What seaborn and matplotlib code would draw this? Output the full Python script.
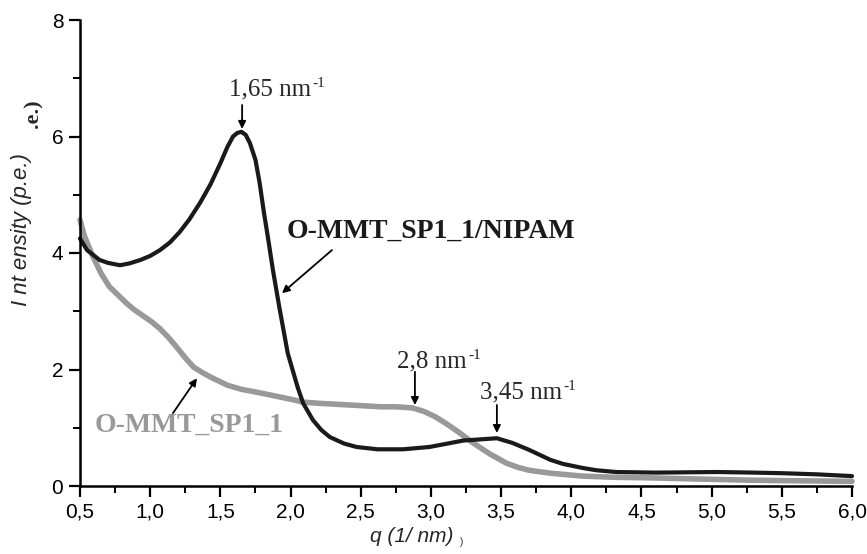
import matplotlib
matplotlib.use("Agg")
import matplotlib.pyplot as plt
import seaborn as sns
import pandas as pd
from matplotlib.ticker import FixedLocator, FixedFormatter

# ---- data ----
q_nipam = [0.50, 0.55, 0.64, 0.70, 0.785, 0.85, 0.93, 1.00, 1.07, 1.14, 1.21, 1.28,
           1.355, 1.43, 1.50, 1.55, 1.59, 1.62, 1.65, 1.68, 1.71, 1.75, 1.78, 1.81,
           1.84, 1.875, 1.92, 1.98, 2.05, 2.09, 2.16, 2.22, 2.28, 2.38, 2.47, 2.62,
           2.80, 2.99, 3.10, 3.23, 3.35, 3.47, 3.58, 3.70, 3.85, 3.94, 4.08, 4.18,
           4.32, 4.60, 5.04, 5.30, 5.50, 5.75, 6.00]
i_nipam = [4.25, 4.05, 3.88, 3.83, 3.79, 3.82, 3.88, 3.95, 4.05, 4.18, 4.36, 4.58,
           4.86, 5.18, 5.54, 5.82, 6.00, 6.06, 6.08, 6.03, 5.89, 5.60, 5.20, 4.70,
           4.25, 3.70, 3.07, 2.28, 1.70, 1.42, 1.13, 0.96, 0.84, 0.73, 0.67, 0.63,
           0.63, 0.67, 0.72, 0.78, 0.80, 0.82, 0.74, 0.62, 0.45, 0.38, 0.31, 0.27,
           0.24, 0.23, 0.24, 0.23, 0.22, 0.20, 0.17]

q_ommt = [0.50, 0.53, 0.59, 0.65, 0.71, 0.77, 0.83, 0.89, 0.95, 1.01, 1.07, 1.13,
          1.19, 1.25, 1.31, 1.37, 1.43, 1.55, 1.65, 1.78, 1.90, 2.02, 2.09, 2.20,
          2.35, 2.50, 2.64, 2.75, 2.87, 2.95, 3.03, 3.11, 3.20, 3.30, 3.42, 3.54,
          3.62, 3.70, 3.85, 4.08, 4.30, 4.56, 4.90, 5.27, 5.60, 6.00]
i_ommt = [4.57, 4.30, 3.95, 3.65, 3.42, 3.28, 3.14, 3.02, 2.92, 2.82, 2.70, 2.55,
          2.38, 2.20, 2.04, 1.95, 1.87, 1.73, 1.66, 1.60, 1.54, 1.48, 1.44, 1.42,
          1.40, 1.38, 1.36, 1.36, 1.34, 1.28, 1.19, 1.07, 0.92, 0.74, 0.55, 0.39,
          0.32, 0.27, 0.22, 0.17, 0.15, 0.14, 0.12, 0.10, 0.09, 0.08]

x_ticks = [0.5, 1.0, 1.5, 2.0, 2.5, 3.0, 3.5, 4.0, 4.5, 5.0, 5.5, 6.0]
x_tick_labels = ["0,5", "1,0", "1,5", "2,0", "2,5", "3,0", "3,5", "4,0", "4,5", "5,0", "5,5", "6,0"]
x_minor = [0.75, 1.25, 1.75, 2.25, 2.75, 3.25, 3.75, 4.25, 4.75, 5.25, 5.75]
y_ticks = [0, 2, 4, 6, 8]
y_tick_labels = ["0", "2", "4", "6", "8"]
y_minor = [1, 3, 5, 7]

df_nipam = pd.DataFrame({"q": q_nipam, "I": i_nipam})
df_ommt = pd.DataFrame({"q": q_ommt, "I": i_ommt})

sns.set_style("ticks")
plt.rcParams["font.family"] = ["Liberation Sans", "DejaVu Sans"]

BLACK = "#1a1a1a"
GRAY = "#999999"

fig = plt.figure(figsize=(8.67, 5.54), dpi=100)
ax = fig.add_axes([80 / 867, 1 - 486 / 554, 772 / 867, 466 / 554])

sns.lineplot(data=df_ommt, x="q", y="I", ax=ax, color=GRAY, lw=4.0, sort=False, clip_on=False)
sns.lineplot(data=df_nipam, x="q", y="I", ax=ax, color=BLACK, lw=3.0, sort=False, clip_on=False)

ax.set_xlim(0.5, 6.0)
ax.set_ylim(0, 8)
ax.xaxis.set_major_locator(FixedLocator(x_ticks))
ax.xaxis.set_major_formatter(FixedFormatter(x_tick_labels))
ax.xaxis.set_minor_locator(FixedLocator(x_minor))
ax.yaxis.set_major_locator(FixedLocator(y_ticks))
ax.yaxis.set_major_formatter(FixedFormatter(y_tick_labels))
ax.yaxis.set_minor_locator(FixedLocator(y_minor))

for s in ["top", "right"]:
    ax.spines[s].set_visible(False)
for s in ["left", "bottom"]:
    ax.spines[s].set_linewidth(1.8)
    ax.spines[s].set_color("black")
ax.tick_params(which="major", direction="out", length=8, width=1.6, labelsize=15,
               color="black", labelcolor="black", pad=4)
ax.tick_params(which="minor", direction="out", length=5, width=1.4, color="black")

ax.set_xlabel("")
ax.set_ylabel("")
fig.text(412 / 867, 1 - 537 / 554, "q (1/ nm)", ha="center", va="center",
         fontsize=15, style="italic")
fig.text(462 / 867, 1 - 542 / 554, ")", ha="center", va="center", fontsize=7)
fig.text(22 / 867, 1 - 230 / 554, "I nt ensity (p.e.)", ha="center", va="center",
         rotation=90, fontsize=16, style="italic")
fig.text(33 / 867, 1 - 114 / 554, ".e.)", ha="center", va="center", rotation=90,
         fontsize=16, fontweight="bold", family=["Liberation Serif", "DejaVu Serif"])

serif = ["Liberation Serif", "DejaVu Serif"]
aprops = dict(arrowstyle="-|>", color="black", lw=1.3, mutation_scale=11,
              shrinkA=0, shrinkB=0)


def peak_label(x, y, base):
    t = ax.text(x, y, base, fontsize=18, family=serif, ha="left", va="baseline")
    ax.annotate("-1", xy=(1.0, 1.0), xycoords=t, xytext=(1, 1), textcoords="offset points",
                fontsize=11, family=serif, ha="left", va="top")
    return t


peak_label(1.561, 6.70, "1,65 nm")
ax.annotate("", xy=(1.655, 6.13), xytext=(1.655, 6.54), arrowprops=aprops)

peak_label(2.758, 2.03, "2,8 nm")
ax.annotate("", xy=(2.886, 1.39), xytext=(2.886, 1.96), arrowprops=aprops)

peak_label(3.349, 1.51, "3,45 nm")
ax.annotate("", xy=(3.47, 0.91), xytext=(3.47, 1.39), arrowprops=aprops)

ax.text(1.974, 4.26, "O-MMT_SP1_1/NIPAM", fontsize=20, family=serif, fontweight="bold",
        color=BLACK, ha="left", va="baseline")
ax.annotate("", xy=(1.939, 3.31), xytext=(2.295, 4.05), arrowprops=aprops)

ax.text(0.607, 0.93, "O-MMT_SP1_1", fontsize=20, family=serif, fontweight="bold",
        color=GRAY, ha="left", va="baseline")
ax.annotate("", xy=(1.333, 1.85), xytext=(1.162, 1.25), arrowprops=aprops)

fig.savefig("out.png", dpi=100)
